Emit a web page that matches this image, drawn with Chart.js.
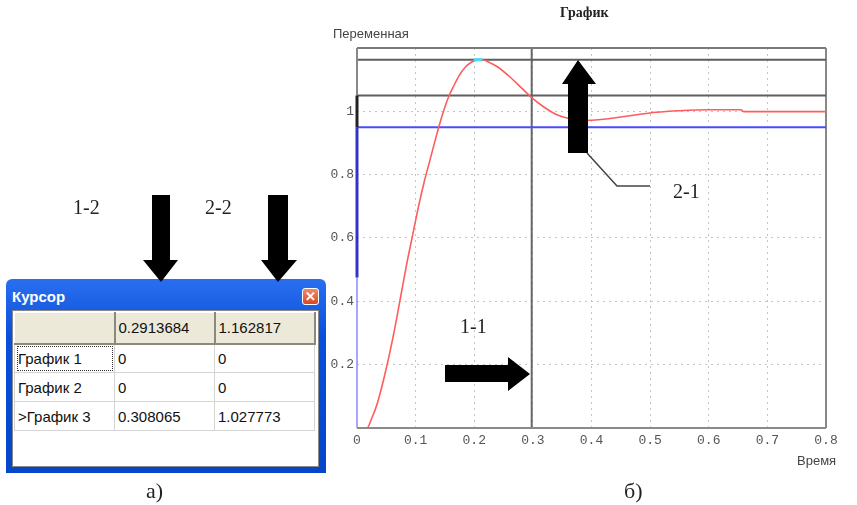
<!DOCTYPE html>
<html>
<head>
<meta charset="utf-8">
<script src="https://cdn.jsdelivr.net/npm/chart.js@4/dist/chart.umd.min.js"></script>
<style>
  body { margin: 0; background: #fff; width: 857px; height: 505px; overflow: hidden; position: relative; }
  #plot { position: absolute; left: 0; top: 0; }
  .lbl { position: absolute; white-space: nowrap; }
  .serif { font-family: "Liberation Serif", serif; font-size: 20px; color: #222; }
  .sans { font-family: "Liberation Sans", Arial, sans-serif; font-size: 13px; color: #444; }
  #win { position: absolute; left: 6px; top: 279px; width: 320px; height: 194px;
         background: linear-gradient(#2a6ef0, #0a4fd8 30%, #0546c8); border-radius: 6px 6px 0 0; }
  #win .ttl { position: absolute; left: 6px; top: 9px; color: #fff; font: bold 15px "Liberation Sans", sans-serif; }
  #win .cls { position: absolute; left: 296px; top: 9px; width: 17px; height: 17px; border-radius: 3px;
              background: linear-gradient(#f08a6a, #d84a20); border: 1px solid #fff; box-sizing: border-box;
              color: #fff; font: bold 13px "Liberation Sans", sans-serif; text-align: center; line-height: 15px; }
  #win .body { position: absolute; left: 6px; top: 31px; width: 307px; height: 157px; background: #fff;
               border: 1px solid #888; box-sizing: border-box; }
  #tbl { border-collapse: collapse; position: absolute; left: 1px; top: 1px; }
  #tbl td { width: 100px; height: 29px; border: 1px solid #d4d4d4; padding: 0 0 0 3px; box-sizing: border-box;
            font: 15px "Liberation Sans", Arial, sans-serif; color: #111; }
  #tbl tr.hd td { background: #ece9d8; height: 31px; border-top: 1px solid #fff; border-left: 1px solid #fff;
                  border-right: 2px solid #8a8a80; border-bottom: 2px solid #8a8a80; }
  #tbl td.focus { outline: 1px dotted #333; outline-offset: -3px; }
</style>
</head>
<body>
<canvas id="plot" width="857" height="505"></canvas>

<div class="lbl" style="left:560px; top:5px; font:bold 14px 'Liberation Serif', serif; color:#222;">График</div>
<div class="lbl sans" style="left:333px; top:26px;">Переменная</div>
<div class="lbl sans" style="left:797px; top:453px;">Время</div>

<div id="win">
  <div class="ttl">Курсор</div>
  <div class="cls">✕</div>
  <div class="body"><table id="tbl"></table></div>
</div>

<div class="lbl serif" style="left:73px; top:196px;">1-2</div>
<div class="lbl serif" style="left:205px; top:196px;">2-2</div>
<div class="lbl serif" style="left:460px; top:315px;">1-1</div>
<div class="lbl serif" style="left:673px; top:180px;">2-1</div>
<div class="lbl serif" style="left:146px; top:478px; font-size:22px;">а)</div>
<div class="lbl serif" style="left:624px; top:478px; font-size:22px;">б)</div>

<svg width="857" height="505" style="position:absolute; left:0; top:0; pointer-events:none;">
  <polygon fill="#000" points="152,195 170,195 170,260 178,260 161,282 143,260 152,260"/>
  <polygon fill="#000" points="268,195 288,195 288,260 297,260 278,282 261,260 268,260"/>
  <polygon fill="#000" points="568,153 588,153 588,84 596,84 578,60 562,84 568,84"/>
  <polyline fill="none" stroke="#444" stroke-width="1.5" points="587,153 617,186 650,186"/>
  <polygon fill="#000" points="445,365 508,365 508,357 530,374 508,391 508,382 445,382"/>
</svg>

<script>
// time axis (s) and "График 3" response
const timeVals = [0, 0.017, 0.025, 0.035, 0.045, 0.055, 0.065, 0.075, 0.085, 0.095, 0.105, 0.115,
  0.125, 0.135, 0.145, 0.155, 0.165, 0.175, 0.185, 0.195, 0.205, 0.215, 0.225, 0.24, 0.26, 0.28,
  0.30, 0.32, 0.34, 0.36, 0.38, 0.40, 0.42, 0.45, 0.48, 0.51, 0.55, 0.6, 0.655, 0.66, 0.7, 0.75, 0.8];
const graph3Vals = [0, 0, 0.03, 0.08, 0.15, 0.23, 0.32, 0.42, 0.52, 0.61, 0.70, 0.78,
  0.85, 0.92, 0.985, 1.04, 1.08, 1.115, 1.14, 1.155, 1.162, 1.162, 1.155, 1.14, 1.11, 1.075,
  1.04, 1.012, 0.99, 0.978, 0.972, 0.972, 0.975, 0.982, 0.99, 0.997, 1.002, 1.005, 1.005, 0.999,
  0.999, 0.999, 0.999];

const xTickLabels = ['0', '0.1', '0.2', '0.3', '0.4', '0.5', '0.6', '0.7', '0.8'];
const yTickLabels = ['', '0.2', '0.4', '0.6', '0.8', '1', ''];

// cursor / level lines
const cursorTime = 0.298;
const peakLevel = 1.1628;
const bandHigh = 1.05;
const bandLow = 0.95;
const yTop = 1.2;
const xEnd = 0.8;
const peakMark = [0.199, 0.214];

// cursor window table
const cursorHeader = ['', '0.2913684', '1.162817'];
const rowNames = ['График 1', 'График 2', '>График 3'];
const rowCol1 = ['0', '0', '0.308065'];
const rowCol2 = ['0', '0', '1.027773'];

const tbl = document.getElementById('tbl');
let html = '<tr class="hd">' + cursorHeader.map(h => '<td>' + h + '</td>').join('') + '</tr>';
rowNames.forEach((n, i) => {
  html += '<tr><td' + (i === 0 ? ' class="focus"' : '') + '>' + n + '</td><td>' + rowCol1[i] + '</td><td>' + rowCol2[i] + '</td></tr>';
});
tbl.innerHTML = html;

const seg = (pts, color, width, order) => ({
  data: pts.map(p => ({ x: p[0], y: p[1] })),
  borderColor: color, borderWidth: width, showLine: true, pointRadius: 0,
  tension: 0, clip: false, order: order
});

const curve = {
  data: timeVals.map((t, i) => ({ x: t, y: graph3Vals[i] })),
  borderColor: '#ff5c5c', borderWidth: 1.6, showLine: true, pointRadius: 0,
  cubicInterpolationMode: 'monotone', order: 2
};

new Chart(document.getElementById('plot'), {
  type: 'scatter',
  data: {
    datasets: [
      seg([[peakMark[0], peakLevel], [peakMark[1], peakLevel]], '#3ee0f0', 3, 0),
      curve,
      seg([[0, yTop], [xEnd, yTop]], '#7a7a7a', 2, 5),
      seg([[0, peakLevel], [xEnd, peakLevel]], '#5e5e5e', 2, 5),
      seg([[0, bandHigh], [xEnd, bandHigh]], '#5e5e5e', 2, 5),
      seg([[0, bandLow], [xEnd, bandLow]], '#4a4aff', 2, 5),
      seg([[cursorTime, 0], [cursorTime, yTop]], '#666', 2, 5),
      seg([[xEnd, 0], [xEnd, yTop]], '#888', 2, 5),
      seg([[0, 0], [xEnd, 0]], '#8a8a8a', 2, 4),
      seg([[0, 0], [0, 0.475]], '#8a8aff', 1.5, 3),
      seg([[0, 0.475], [0, bandLow]], '#3434c4', 3, 3),
      seg([[0, bandLow], [0, bandHigh]], '#222', 3, 3),
      seg([[0, bandHigh], [0, yTop]], '#888', 2, 3)
    ]
  },
  options: {
    responsive: false,
    animation: false,
    layout: { padding: { left: 327, right: 31, top: 48, bottom: 53 } },
    plugins: { legend: { display: false }, tooltip: { enabled: false } },
    scales: {
      x: {
        type: 'linear', min: 0, max: xEnd,
        afterFit: s => { s.height = 24; },
        afterBuildTicks: s => { s.ticks = xTickLabels.map(v => ({ value: parseFloat(v) })); },
        ticks: {
          padding: 5, maxRotation: 0, autoSkip: false, color: '#555',
          font: { family: 'Liberation Mono', size: 13 },
          callback: (v, i) => xTickLabels[i]
        },
        grid: {
          drawTicks: false, lineWidth: 1,
          color: c => (c.index === 0 || c.index === xTickLabels.length - 1) ? 'rgba(0,0,0,0)' : '#c4c4c4'
        },
        border: { display: false, dash: [2, 4] }
      },
      y: {
        type: 'linear', min: 0, max: yTop,
        afterFit: s => { s.width = 30; },
        afterBuildTicks: s => { s.ticks = yTickLabels.map((v, i) => ({ value: i * 0.2 })); },
        ticks: {
          padding: 3, autoSkip: false, color: '#555',
          font: { family: 'Liberation Mono', size: 13 },
          callback: (v, i) => yTickLabels[i]
        },
        grid: {
          drawTicks: false, lineWidth: 1,
          color: c => (c.index === 0 || c.index === yTickLabels.length - 1) ? 'rgba(0,0,0,0)' : '#c4c4c4'
        },
        border: { display: false, dash: [2, 4] }
      }
    }
  }
});
</script>
</body>
</html>
